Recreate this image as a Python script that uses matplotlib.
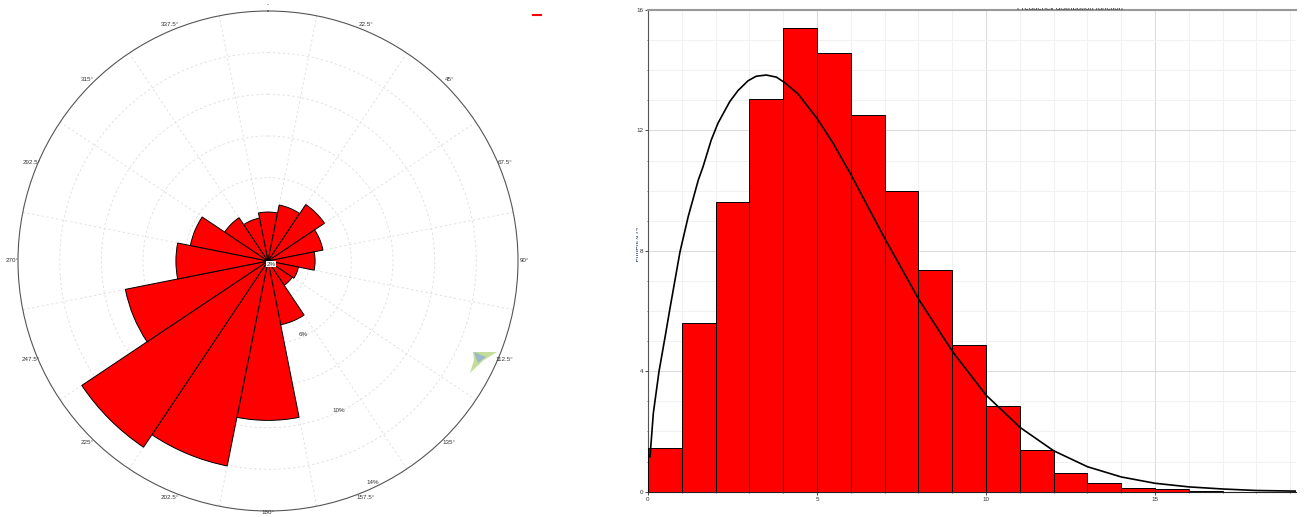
"""Wind rose and frequency histogram with fitted curve."""
import matplotlib

matplotlib.use("Agg")
import matplotlib.pyplot as plt
import numpy as np
from matplotlib.lines import Line2D
from matplotlib.patches import Polygon
from matplotlib.transforms import Bbox

plt.rcParams["font.family"] = ["Liberation Sans", "DejaVu Sans"]

W, H = 1304, 517

# wind rose
directions = [0, 22.5, 45, 67.5, 90, 112.5, 135, 157.5, 180, 202.5, 225, 247.5, 270, 292.5, 315, 337.5]
direction_labels = ["-", "22.5°", "45°", "67.5°", "90°", "112.5°", "135°", "157.5°", "180°",
                    "202.5°", "225°", "247.5°", "270°", "292.5°", "315°", "337.5°"]
frequency_pct = [4.35, 4.74, 5.26, 4.69, 4.26, 3.49, 3.40, 5.12, 9.65, 12.03, 12.75, 8.98, 6.42, 5.80, 4.50, 4.10]
ring_ticks = [4, 6, 8, 10, 12]

# histogram
bin_left = list(range(17))
bin_height = [1.44, 5.60, 9.63, 13.03, 15.39, 14.58, 12.51, 9.98, 7.38, 4.87, 2.84, 1.37, 0.61, 0.30, 0.13, 0.08, 0.03]
curve_x = [0.06, 0.157, 0.325, 0.524, 0.65, 0.947, 1.19, 1.49, 1.63, 1.87, 2.07, 2.42, 2.66, 2.96, 3.20, 3.50,
           3.80, 4.04, 4.44, 5.0, 5.48, 6.01, 7.0, 7.36, 8.01, 9.01, 10, 11, 12, 13, 14, 15, 16, 17, 18, 19.17]
curve_y = [1.16, 2.60, 3.99, 5.26, 6.09, 7.97, 9.14, 10.36, 10.80, 11.68, 12.24, 12.96, 13.32, 13.65, 13.80, 13.84,
           13.77, 13.59, 13.21, 12.40, 11.57, 10.52, 8.42, 7.70, 6.39, 4.65, 3.21, 2.14, 1.36, 0.83, 0.49, 0.28,
           0.16, 0.09, 0.04, 0.02]


def px(x, y):
    """Pixel position in the picture (y down) to figure fraction."""
    return x / W, 1 - y / H


def px_axes(left, top, right, bottom):
    return [left / W, 1 - bottom / H, (right - left) / W, (bottom - top) / H]


fig = plt.figure(figsize=(W / 100, H / 100), dpi=100)

# --- rose ---
ax = fig.add_axes(px_axes(18, 11, 518, 511), projection="polar")
ax.set_theta_zero_location("N")
ax.set_theta_direction(-1)
ax.bar(np.radians(directions), np.array(frequency_pct) - 2, width=np.radians(22.5), bottom=2,
       color="#ff0000", edgecolor="black", linewidth=0.7, zorder=3)
ax.set_ylim(2, 14)
ax.set_yticks(ring_ticks)
ax.set_yticklabels([])
ax.set_xticks(np.radians(directions))
ax.set_xticklabels([])
ax.set_xticks(np.radians(np.array(directions) + 11.25), minor=True)
ax.tick_params(axis="x", which="both", length=0)
ax.xaxis.grid(False, which="major")
ax.xaxis.grid(True, which="minor", color="#e2e2e2", linestyle=(0, (2.5, 2.5)), linewidth=0.7)
ax.yaxis.grid(True, color="#e2e2e2", linestyle=(0, (2.5, 2.5)), linewidth=0.7)
ax.spines["polar"].set_color("#555555")
ax.spines["polar"].set_linewidth(0.8)

# labels sit right on the outer circle, centred on their point
for angle, label in zip(directions, direction_labels):
    # 180 would run off the bottom of the picture
    label_r = 14.07 if angle == 180 else 14.3
    ax.text(np.radians(angle), label_r, label, fontsize=4.5, color="#333333", ha="center", va="center", clip_on=False)

fig.text(*px(271, 264), "2%", fontsize=4.5, color="#333333", ha="center", va="center", zorder=5,
         bbox=dict(facecolor="white", edgecolor="none", pad=0.6))
for label, (lx, ly) in zip(["6%", "10%", "14%"], [(303, 335), (339, 411), (373, 482)]):
    fig.text(*px(lx, ly), label, fontsize=4.5, color="#333333", ha="center", va="center")

# red legend dash
x0, y0 = px(533, 14.5)
x1, _ = px(541, 14.5)
fig.add_artist(Line2D([x0, x1], [y0, y0], color="#ff0000", linewidth=1.5))

# logo
logo_green = [(473, 352), (497, 352), (484, 360), (470, 373), (474, 360)]
logo_blue = [(474, 352), (486, 357), (478, 363), (476, 358)]
fig.add_artist(Polygon([px(*p) for p in logo_green], closed=True, facecolor="#c5dd9b", edgecolor="none"))
fig.add_artist(Polygon([px(*p) for p in logo_blue], closed=True, facecolor="#9db8c8", edgecolor="none"))

# --- histogram ---
hx = fig.add_axes(px_axes(648, 10, 1296, 491.7))
hx.bar(bin_left, bin_height, width=1, align="edge", color="#ff0000", edgecolor="black", linewidth=0.7, zorder=3)
hx.plot(curve_x, curve_y, color="black", linewidth=1.2, zorder=4)
hx.set_xlim(0, 19.17)
hx.set_ylim(0, 16)
hx.set_xticks([0, 5, 10, 15])
hx.set_yticks([0, 4, 8, 12, 16])
hx.set_xticks(np.arange(0, 20), minor=True)
hx.set_yticks(np.arange(0, 17), minor=True)
hx.grid(True, which="major", color="#dcdcdc", linewidth=0.8)
hx.grid(True, which="minor", color="#f1f1f1", linewidth=0.7)
hx.set_axisbelow(True)
hx.tick_params(axis="both", which="major", labelsize=4.5, length=2, width=0.5, pad=1.5, labelcolor="#333333")
hx.tick_params(axis="both", which="minor", length=1, width=0.4)
hx.spines["top"].set_color("#999999")
hx.spines["top"].set_linewidth(1.5)
hx.spines["right"].set_visible(False)
hx.spines["left"].set_color("#555555")
hx.spines["bottom"].set_color("#222222")

# title and y label are cut off in the source, only slivers of them show
title = fig.text(*px(1070, 9.5), "Frequency distribution function", fontsize=5.6, color="#333333",
                 ha="center", va="baseline")
title.set_clip_box(Bbox([[1000, H - 10], [1140, H - 7.5]]))
title.set_clip_on(True)
ylab = fig.text(*px(638, 245), "Frequency (%)", fontsize=5, color="#1a2a6c", rotation=90, ha="center", va="center")
ylab.set_clip_box(Bbox([[636, H - 262], [638, H - 228]]))
ylab.set_clip_on(True)

fig.savefig("out.png", dpi=100)
